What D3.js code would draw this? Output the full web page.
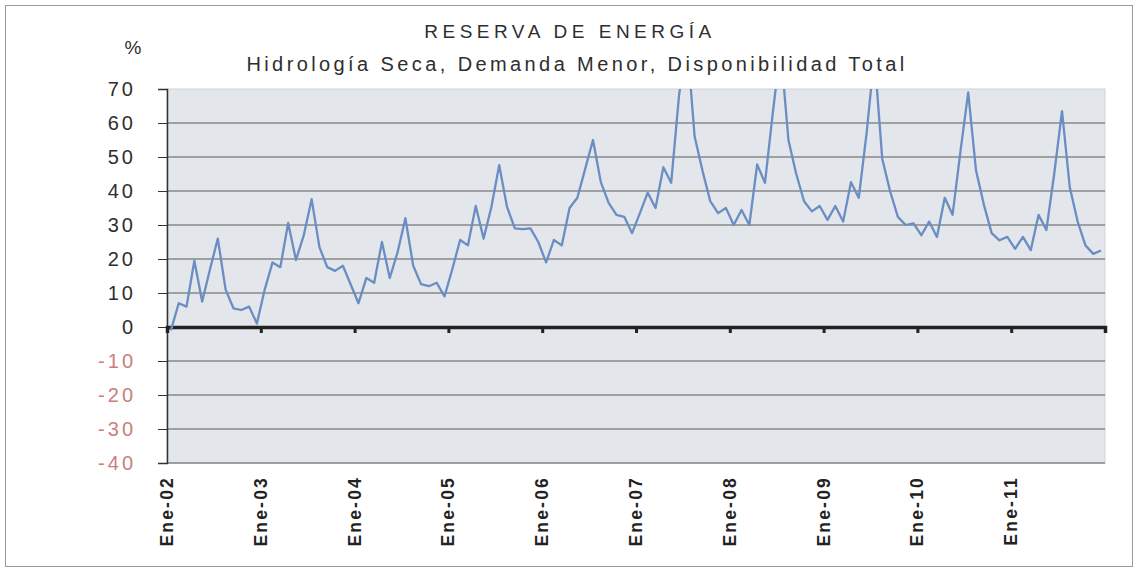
<!DOCTYPE html>
<html>
<head>
<meta charset="utf-8">
<script src="https://cdn.jsdelivr.net/npm/d3@7"></script>
<style>
  body { margin: 0; background: #fff; }
  svg { display: block; font-family: "Liberation Sans", Arial, sans-serif; }
</style>
</head>
<body>
<svg id="chart" width="1138" height="573"></svg>
<script>
// monthly reserve (%) per year, Jan..Dec
const r2002 = [-1, 7, 6, 19.5, 7.5, 17, 26, 11, 5.5, 5, 6, 1];
const r2003 = [11, 19, 17.6, 30.6, 19.7, 27, 37.6, 23.5, 17.6, 16.5, 18, 12.5];
const r2004 = [7, 14.4, 13, 25, 14.4, 22, 32, 18, 12.6, 12, 13, 9];
const r2005 = [17, 25.6, 24, 35.6, 26, 35.3, 47.6, 35.3, 29, 28.8, 29, 25];
const r2006 = [19, 25.6, 24, 35, 38, 46.5, 55, 42.6, 36.5, 33, 32.4, 27.6];
const r2007 = [33.5, 39.5, 35, 47, 42.4, 68, 85, 56, 46, 37, 33.5, 35];
const r2008 = [30, 34.4, 30, 47.8, 42.4, 63, 82, 55, 45, 37, 34, 35.6];
const r2009 = [31.5, 35.6, 31, 42.6, 38, 57, 80, 49.5, 40, 32.4, 30, 30.5];
const r2010 = [27, 31, 26.5, 38, 33, 51.5, 69, 46, 36, 27.6, 25.5, 26.5];
const r2011 = [23, 26.5, 22.6, 33, 28.5, 45, 63.5, 41, 31, 24, 21.5, 22.5];

const yearLabels = ["Ene-02", "Ene-03", "Ene-04", "Ene-05", "Ene-06",
                    "Ene-07", "Ene-08", "Ene-09", "Ene-10", "Ene-11"];
const yTicks = [70, 60, 50, 40, 30, 20, 10, 0, -10, -20, -30, -40];

const title = "RESERVA DE ENERGÍA";
const subtitle = "Hidrología Seca, Demanda Menor, Disponibilidad Total";

const values = [].concat(r2002, r2003, r2004, r2005, r2006, r2007, r2008, r2009, r2010, r2011);

const svg = d3.select("#chart");
const plotL = 167, plotR = 1105, plotT = 89, plotB = 463;

// outer frame
svg.append("rect")
    .attr("x", 5.5).attr("y", 5.5)
    .attr("width", 1127).attr("height", 561)
    .attr("fill", "none").attr("stroke", "#9a9a9a").attr("stroke-width", 1);

const x = d3.scaleBand().domain(d3.range(values.length)).range([plotL, plotR]).padding(0);
const xm = d3.scaleLinear().domain([0, values.length]).range([plotL, plotR]);
const y = d3.scaleLinear().domain([-40, 70]).range([plotB, plotT]);

// plot background
svg.append("rect")
    .attr("x", plotL).attr("y", plotT)
    .attr("width", plotR - plotL).attr("height", plotB - plotT)
    .attr("fill", "#e3e6ea").attr("stroke", "#cfd2d6");

// grid lines
svg.append("g")
    .selectAll("line")
    .data(yTicks.filter(d => d !== 0 && d !== 70))
    .join("line")
    .attr("x1", plotL).attr("x2", plotR)
    .attr("y1", d => y(d)).attr("y2", d => y(d))
    .attr("stroke", "#5a5a5a").attr("stroke-width", 1);

// y axis
const yAxis = svg.append("g")
    .attr("transform", `translate(${plotL},0)`)
    .call(d3.axisLeft(y).tickValues(yTicks).tickSize(9).tickPadding(22).tickFormat(d => d));
yAxis.select(".domain").attr("stroke", "#333").attr("stroke-width", 1.5);
yAxis.selectAll(".tick line").attr("stroke", "#333");
yAxis.selectAll(".tick text")
    .attr("font-size", 20)
    .attr("letter-spacing", 3)
    .attr("font-family", "Liberation Sans, Arial, sans-serif")
    .attr("fill", d => d < 0 ? "#c8807c" : "#2e2e2e");

// "%" unit label
svg.append("text")
    .attr("x", 133).attr("y", 54)
    .attr("text-anchor", "middle")
    .attr("font-size", 19)
    .attr("fill", "#2e2e2e")
    .text("%");

// zero axis with year ticks
const xAxis = svg.append("g")
    .attr("transform", `translate(0,${y(0)})`)
    .call(d3.axisBottom(xm).tickValues(d3.range(0, values.length + 1, 12)).tickSize(6).tickFormat(""));
xAxis.select(".domain").attr("stroke", "#222").attr("stroke-width", 3.5);
xAxis.selectAll(".tick line").attr("stroke", "#222").attr("stroke-width", 3);

// year labels, rotated
svg.append("g")
    .selectAll("text")
    .data(yearLabels)
    .join("text")
    .attr("transform", (d, i) => `translate(${xm(i * 12) + 6},476) rotate(-90)`)
    .attr("text-anchor", "end")
    .attr("font-size", 17.5)
    .attr("font-weight", "bold")
    .attr("letter-spacing", 2.2)
    .attr("fill", "#222")
    .text(d => d);

// clip the series to the plot area (peaks go above 70)
svg.append("clipPath").attr("id", "plotClip")
    .append("rect")
    .attr("x", plotL).attr("y", plotT)
    .attr("width", plotR - plotL).attr("height", plotB - plotT);

const line = d3.line()
    .x((d, i) => x(i) + x.bandwidth() / 2)
    .y(d => y(d));

svg.append("path")
    .datum(values)
    .attr("clip-path", "url(#plotClip)")
    .attr("d", line)
    .attr("fill", "none")
    .attr("stroke", "#6a8ec4")
    .attr("stroke-width", 2.3)
    .attr("stroke-linejoin", "round");

// titles
svg.append("text")
    .attr("x", 570).attr("y", 38)
    .attr("text-anchor", "middle")
    .attr("font-size", 19)
    .attr("letter-spacing", 4.5)
    .attr("fill", "#2e2e2e")
    .text(title);

svg.append("text")
    .attr("x", 577).attr("y", 71)
    .attr("text-anchor", "middle")
    .attr("font-size", 20)
    .attr("letter-spacing", 3.4)
    .attr("fill", "#2e2e2e")
    .text(subtitle);
</script>
</body>
</html>
